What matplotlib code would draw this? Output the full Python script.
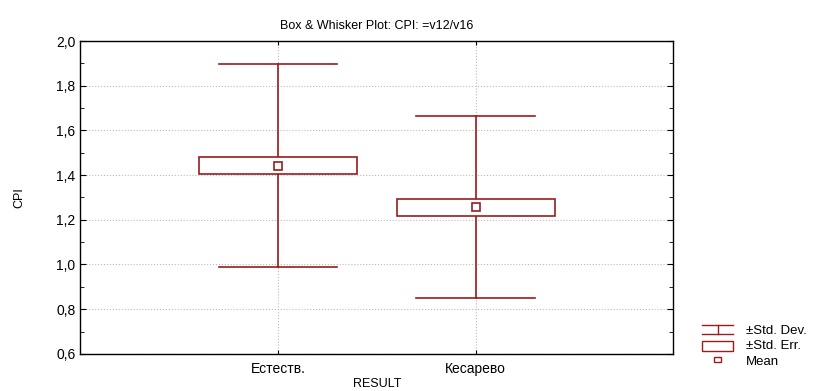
import matplotlib
matplotlib.use("Agg")
import matplotlib.pyplot as plt
from matplotlib.patches import Rectangle
from matplotlib.ticker import MultipleLocator, FuncFormatter

# data
groups = ["Естеств.", "Кесарево"]
means = [1.443, 1.256]
std_dev = [0.455, 0.408]
std_err = [0.039, 0.038]

red = "#9a1c1c"
plt.rcParams['font.family'] = ['Liberation Sans', 'DejaVu Sans']

fig = plt.figure(figsize=(8.29, 3.91), dpi=100)
ax = fig.add_axes([0.097, 0.095, 0.715, 0.8])

xs = list(range(1, len(groups) + 1))
box_w = 0.8
cap_w = 0.6
for x, m, sd, se in zip(xs, means, std_dev, std_err):
    ax.plot([x, x], [m - sd, m + sd], color=red, lw=1.2, zorder=2)
    ax.plot([x - cap_w / 2, x + cap_w / 2], [m + sd, m + sd], color=red, lw=1.2, zorder=2)
    ax.plot([x - cap_w / 2, x + cap_w / 2], [m - sd, m - sd], color=red, lw=1.2, zorder=2)
    ax.add_patch(Rectangle((x - box_w / 2, m - se), box_w, 2 * se,
                           facecolor="white", edgecolor=red, lw=1.2, zorder=3))
    ax.plot([x], [m], marker="s", ms=5.5, mfc="white", mec=red, mew=1.2, zorder=4)

ax.set_xlim(0, len(groups) + 1)
ax.set_ylim(0.6, 2.0)
ax.set_xticks(xs)
ax.set_xticklabels(groups, fontsize=10)
ax.yaxis.set_major_locator(MultipleLocator(0.2))
ax.yaxis.set_minor_locator(MultipleLocator(0.1))
ax.yaxis.set_major_formatter(FuncFormatter(lambda v, p: ("%.1f" % v).replace(".", ",")))
ax.tick_params(axis="y", which="both", direction="in", left=True, right=True, labelsize=10)
ax.tick_params(axis="y", which="major", length=4)
ax.tick_params(axis="y", which="minor", length=3)
ax.tick_params(axis="x", direction="in", length=3, top=True, pad=6)
ax.grid(True, color="#bbbbbb", linestyle=":", lw=0.8)
ax.set_axisbelow(True)
for s in ax.spines.values():
    s.set_linewidth(1.0)

ax.set_title("Box & Whisker Plot: CPI: =v12/v16", fontsize=9, pad=9)
ax.set_ylabel("CPI", fontsize=9, labelpad=22)
ax.set_xlabel("RESULT", fontsize=9, labelpad=1)

# legend drawn outside the axes (coords in pixels)
lg = fig.add_axes([0.84, 0.0, 0.16, 0.2])
lg.set_xlim(0, 133)
lg.set_ylim(78, 0)
lg.axis("off")
lg.plot([6, 37], [12, 12], color=red, lw=1)
lg.plot([6, 37], [21, 21], color=red, lw=1)
lg.plot([21.5, 21.5], [12, 21], color=red, lw=1)
lg.add_patch(Rectangle((6, 28), 31, 10, facecolor="white", edgecolor=red, lw=1))
lg.add_patch(Rectangle((18, 44), 7, 5, facecolor="white", edgecolor=red, lw=1))
lg.text(50, 18, "±Std. Dev.", fontsize=9.5, va="center")
lg.text(50, 33, "±Std. Err.", fontsize=9.5, va="center")
lg.text(50, 49, "Mean", fontsize=9.5, va="center")

fig.savefig("out.png", dpi=100)
